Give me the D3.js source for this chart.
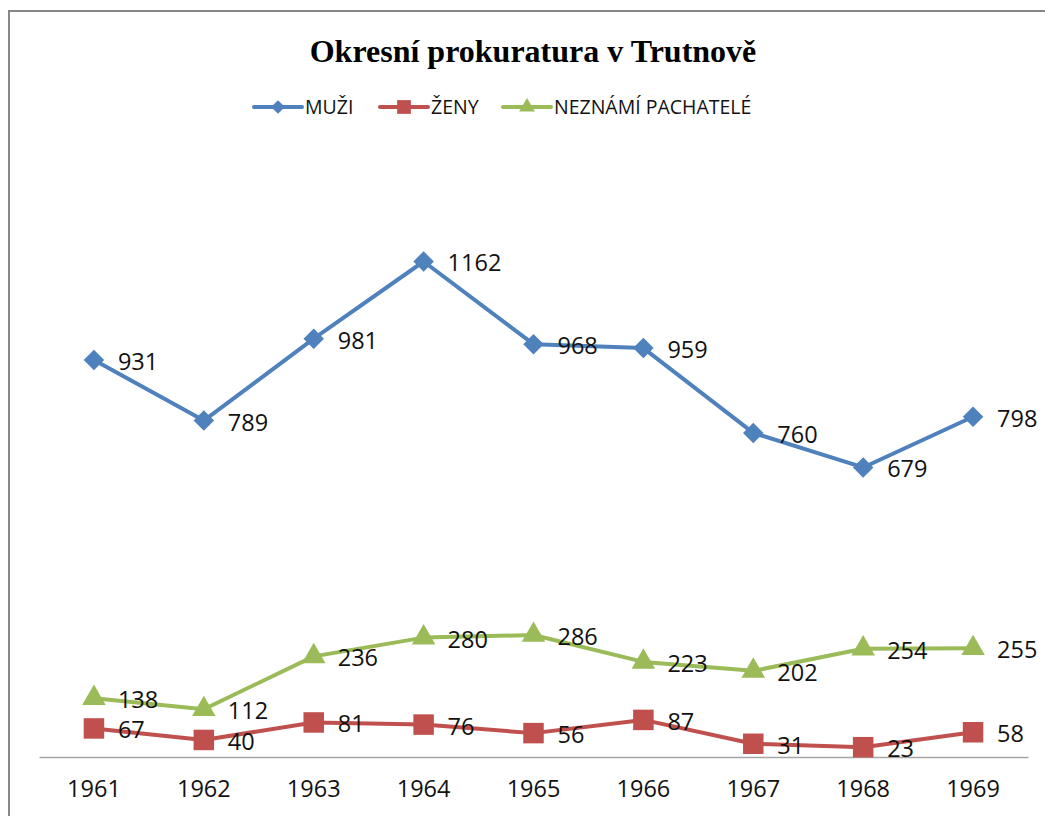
<!DOCTYPE html>
<html>
<head>
<meta charset="utf-8">
<script src="https://cdnjs.cloudflare.com/ajax/libs/d3/7.8.5/d3.min.js"></script>
<style>
  body { margin: 0; background: #fff; }
  svg { display: block; }
</style>
</head>
<body>
<div id="chart"></div>
<script>
const years = ["1961", "1962", "1963", "1964", "1965", "1966", "1967", "1968", "1969"];
const muzi = [931, 789, 981, 1162, 968, 959, 760, 679, 798];
const zeny = [67, 40, 81, 76, 56, 87, 31, 23, 58];
const neznami = [138, 112, 236, 280, 286, 223, 202, 254, 255];
const seriesNames = ["MUŽI", "ŽENY", "NEZNÁMÍ PACHATELÉ"];

const width = 1045, height = 816;
const margin = { top: 160, right: 17, bottom: 59, left: 39 };

const svg = d3.select("#chart").append("svg")
    .attr("width", width)
    .attr("height", height);

// chart border
svg.append("rect")
    .attr("x", 9).attr("y", 11)
    .attr("width", 1200).attr("height", 1000)
    .attr("fill", "none")
    .attr("stroke", "#878787")
    .attr("stroke-width", 2);

svg.append("text")
    .attr("x", 533).attr("y", 62)
    .attr("text-anchor", "middle")
    .attr("font-family", "Liberation Serif, Times New Roman, serif")
    .attr("font-weight", "bold")
    .attr("font-size", 32)
    .text("Okresní prokuratura v Trutnově");

const x = d3.scaleBand()
    .domain(years)
    .range([margin.left, width - margin.right]);

const y = d3.scaleLinear()
    .domain([0, 1400])
    .range([height - margin.bottom, margin.top]);

const xAxis = svg.append("g")
    .attr("transform", "translate(0," + y(0) + ")")
    .call(d3.axisBottom(x).tickSize(0).tickPadding(23));
xAxis.select(".domain").attr("stroke", "#a6a6a6").attr("stroke-width", 1.5);
xAxis.selectAll("text")
    .attr("font-family", "Open Sans, sans-serif")
    .attr("font-size", 23.5)
    .attr("fill", "#111");

// diamond = rotated square
const series = [
    { name: seriesNames[0], values: muzi, color: "#4f81bd", shape: d3.symbolSquare, rot: 45, size: 210 },
    { name: seriesNames[1], values: zeny, color: "#c0504d", shape: d3.symbolSquare, rot: 0, size: 420 },
    { name: seriesNames[2], values: neznami, color: "#9bbb59", shape: d3.symbolTriangle, rot: 0, size: 240 }
];

const cx = d => x(d) + x.bandwidth() / 2;

const line = d3.line()
    .x((d, i) => cx(years[i]))
    .y(d => y(d));

series.forEach(s => {
    const g = svg.append("g");
    g.append("path")
        .datum(s.values)
        .attr("fill", "none")
        .attr("stroke", s.color)
        .attr("stroke-width", 4)
        .attr("stroke-linejoin", "round")
        .attr("d", line);
    g.selectAll("path.m")
        .data(s.values)
        .join("path")
        .attr("class", "m")
        .attr("transform", (d, i) => "translate(" + cx(years[i]) + "," + y(d) + ") rotate(" + s.rot + ")")
        .attr("d", d3.symbol().type(s.shape).size(s.size))
        .attr("fill", s.color);
    g.selectAll("text")
        .data(s.values)
        .join("text")
        .attr("x", (d, i) => cx(years[i]) + 24)
        .attr("y", d => y(d) + 10)
        .attr("font-family", "Open Sans, sans-serif")
        .attr("font-size", 23.5)
        .attr("fill", "#111")
        .text(d => d);
});

// legend
const legendX = [254, 380, 503];
const legend = svg.append("g");
series.forEach((s, i) => {
    const lg = legend.append("g").attr("transform", "translate(" + legendX[i] + ",107)");
    lg.append("line")
        .attr("x1", 0).attr("x2", 48)
        .attr("stroke", s.color)
        .attr("stroke-width", 4)
        .attr("stroke-linecap", "round");
    lg.append("path")
        .attr("transform", "translate(24,0) rotate(" + s.rot + ")")
        .attr("d", d3.symbol().type(s.shape).size(s.size * 0.45))
        .attr("fill", s.color);
    lg.append("text")
        .attr("x", 51).attr("y", 7)
        .attr("font-family", "Open Sans, sans-serif")
        .attr("font-size", 19.5)
        .attr("fill", "#111")
        .text(s.name);
});
</script>
</body>
</html>
